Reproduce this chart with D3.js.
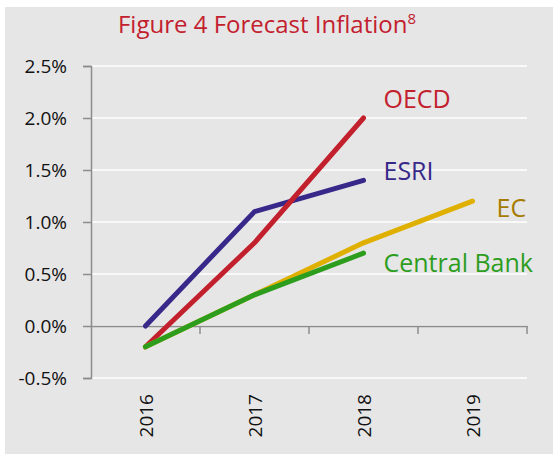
<!DOCTYPE html>
<html>
<head>
<meta charset="utf-8">
<script src="https://cdn.jsdelivr.net/npm/d3@7"></script>
<style>
  body { margin: 0; background: #fff; }
  text { font-family: "Open Sans", "Noto Sans", sans-serif; }
</style>
</head>
<body>
<div id="chart"></div>
<script>
// chart data
const years = ["2016", "2017", "2018", "2019"];
const seriesNames = ["ESRI", "OECD", "EC", "Central Bank"];
const esri = [0.0, 1.1, 1.4];
const oecd = [-0.2, 0.8, 2.0];
const ec = [-0.2, 0.3, 0.8, 1.2];
const centralBank = [-0.2, 0.3, 0.7];
const yTicks = [-0.5, 0, 0.5, 1.0, 1.5, 2.0, 2.5];

const colors = {
    "OECD": "#c3202e",
    "ESRI": "#37288a",
    "EC": "#dfb000",
    "Central Bank": "#2d9d1e"
};
const labelColors = {
    "OECD": "#c3202e",
    "ESRI": "#37288a",
    "EC": "#a57c00",
    "Central Bank": "#2d9d1e"
};

// svg set up
let svgWidth = 553;
let svgHeight = 454;
let margin = { top: 66, left: 91, right: 26, bottom: 76 };
let width = svgWidth - margin.left - margin.right;
let height = svgHeight - margin.top - margin.bottom;

let svg = d3.select("#chart")
    .append("svg")
    .attr("width", svgWidth)
    .attr("height", svgHeight);

// grey panel
svg.append("rect")
    .attr("x", 5)
    .attr("y", 7)
    .attr("width", svgWidth - 5)
    .attr("height", svgHeight - 7)
    .attr("fill", "#e6e6e6");

// title
let title = svg.append("text")
    .attr("x", 267)
    .attr("y", 33)
    .attr("text-anchor", "middle")
    .attr("fill", "#c3202e")
    .attr("font-size", "24px")
    .text("Figure 4 Forecast Inflation");
title.append("tspan")
    .attr("dy", -9)
    .attr("font-size", "15px")
    .text("8");

let chartGroup = svg.append("g")
    .attr("transform", `translate(${margin.left},${margin.top})`);

// scales
let xScale = d3.scaleBand()
    .domain(years)
    .range([0, width]);

let yScale = d3.scaleLinear()
    .domain([-0.5, 2.5])
    .range([height, 0]);

// gridlines
chartGroup.append("g")
    .selectAll("line")
    .data(yTicks)
    .enter()
    .append("line")
    .attr("x1", 0)
    .attr("x2", width)
    .attr("y1", d => yScale(d))
    .attr("y2", d => yScale(d))
    .attr("stroke", "#ffffff")
    .attr("stroke-width", 1.5);

// y axis
let leftAxis = d3.axisLeft(yScale)
    .tickValues(yTicks)
    .tickSize(8)
    .tickPadding(16)
    .tickFormat(d => d3.format(".1f")(d).replace("−", "-") + "%");

let yAxis = chartGroup.append("g")
    .call(leftAxis);
yAxis.select(".domain").attr("stroke", "#8c8c8c").attr("stroke-width", 1.5);
yAxis.selectAll(".tick line").attr("stroke", "#8c8c8c").attr("stroke-width", 1.5);
yAxis.selectAll(".tick text")
    .attr("font-size", "19px")
    .attr("fill", "#111")
    .attr("font-family", "Open Sans, sans-serif");

// x axis on zero line
let bottomAxis = d3.axisBottom(xScale)
    .tickSize(0)
    .tickFormat("");
let xAxis = chartGroup.append("g")
    .attr("transform", `translate(0, ${yScale(0)})`)
    .call(bottomAxis);
xAxis.select(".domain").attr("stroke", "#8c8c8c").attr("stroke-width", 1.5);

// category boundary ticks
let boundaries = years.map(y => xScale(y) + xScale.bandwidth());
chartGroup.append("g")
    .selectAll("line")
    .data(boundaries)
    .enter()
    .append("line")
    .attr("x1", d => d)
    .attr("x2", d => d)
    .attr("y1", yScale(0))
    .attr("y2", yScale(0) + 8)
    .attr("stroke", "#8c8c8c")
    .attr("stroke-width", 1.5);

// rotated year labels
chartGroup.append("g")
    .selectAll("text")
    .data(years)
    .enter()
    .append("text")
    .attr("transform", d => `translate(${xScale(d) + xScale.bandwidth() / 2 + 7},${height + 16}) rotate(-90)`)
    .attr("text-anchor", "end")
    .attr("font-size", "19px")
    .attr("fill", "#111")
    .text(d => d);

// lines
let seriesData = {
    "ESRI": esri,
    "OECD": oecd,
    "EC": ec,
    "Central Bank": centralBank
};
let line = d3.line()
    .x((d, i) => xScale(years[i]) + xScale.bandwidth() / 2)
    .y(d => yScale(d));

seriesNames.forEach(name => {
    chartGroup.append("path")
        .datum(seriesData[name])
        .attr("d", line)
        .attr("fill", "none")
        .attr("stroke", colors[name])
        .attr("stroke-width", 5)
        .attr("stroke-linecap", "round")
        .attr("stroke-linejoin", "round");
});

// series labels
let labelSpots = [
    { name: "OECD", year: "2018", value: 2.0, dx: 20, dy: -10 },
    { name: "ESRI", year: "2018", value: 1.4, dx: 20, dy: 0 },
    { name: "EC", year: "2019", value: 1.2, dx: 24, dy: 16 },
    { name: "Central Bank", year: "2018", value: 0.7, dx: 20, dy: 19 }
];
chartGroup.append("g")
    .selectAll("text")
    .data(labelSpots)
    .enter()
    .append("text")
    .attr("x", d => xScale(d.year) + xScale.bandwidth() / 2 + d.dx)
    .attr("y", d => yScale(d.value) + d.dy)
    .attr("font-size", "25px")
    .attr("fill", d => labelColors[d.name])
    .text(d => d.name);
</script>
</body>
</html>
